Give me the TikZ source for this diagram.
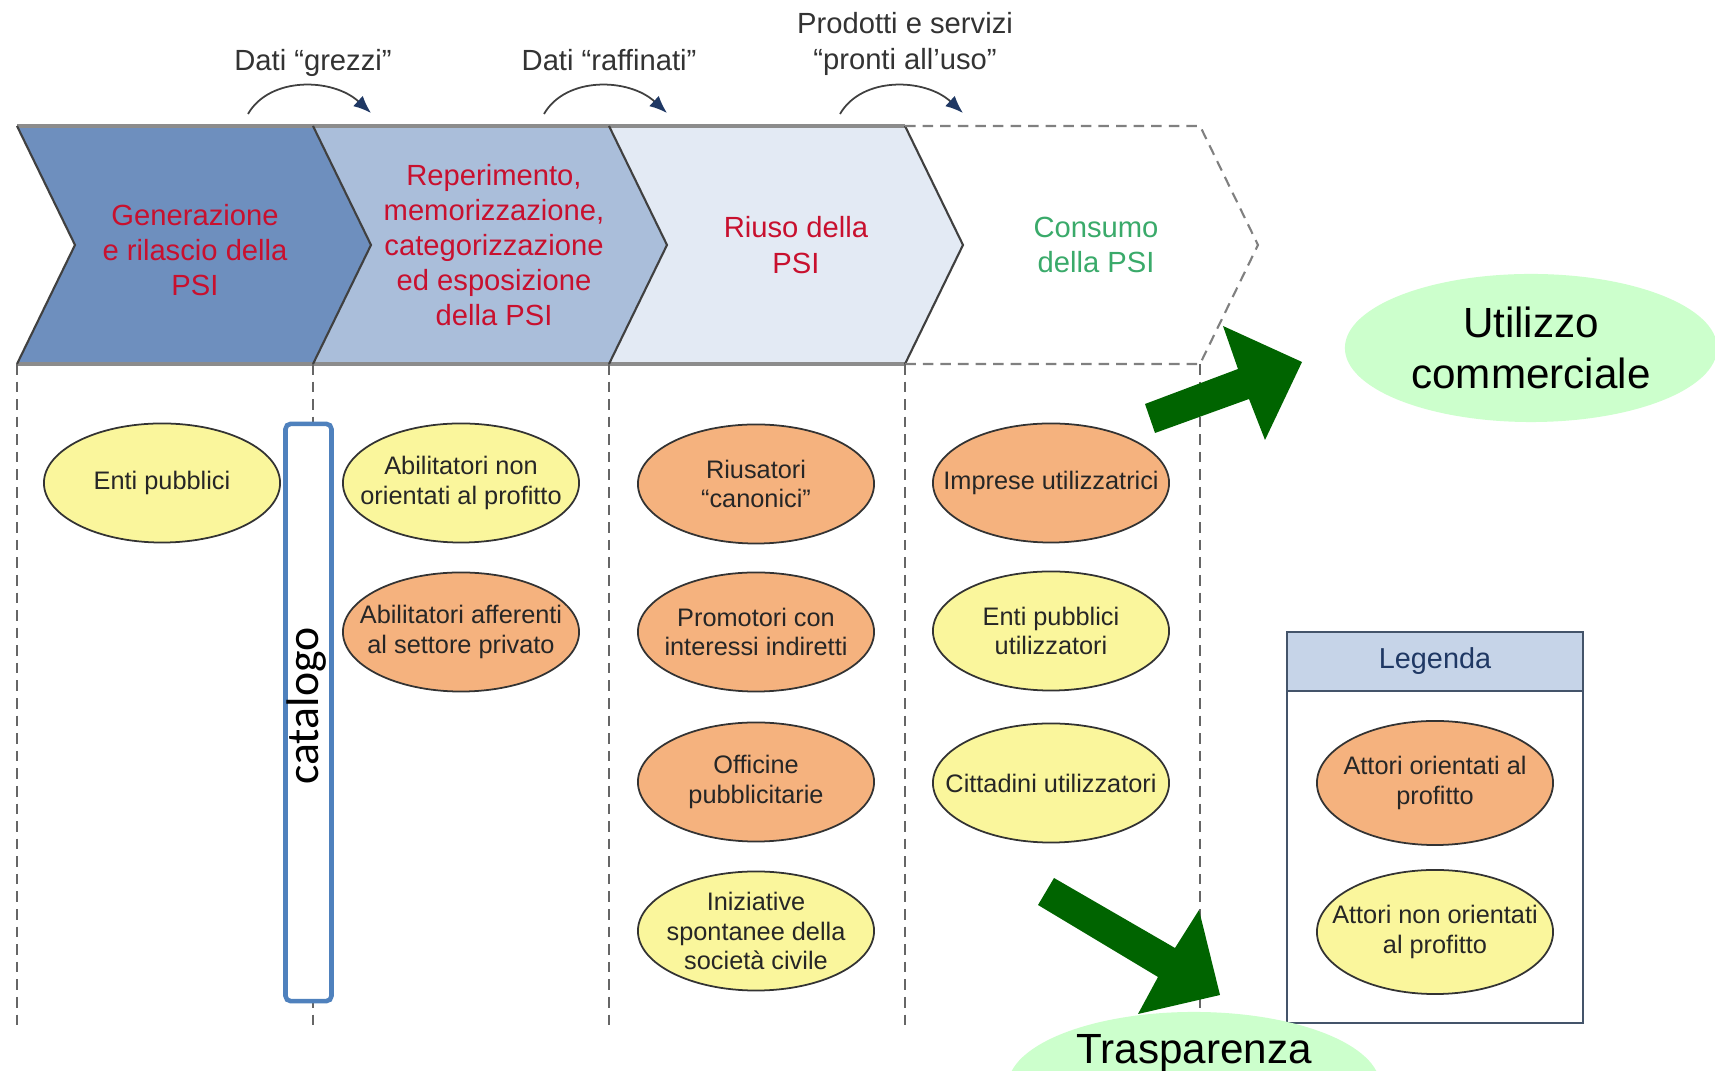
\documentclass[tikz,border=0pt]{standalone}
\usepackage{fontspec}
\setmainfont{Liberation Sans}
\newfontfamily\calib{Carlito}
\usetikzlibrary{shapes.geometric,arrows.meta}

\definecolor{chevA}{HTML}{6E8FBE}
\definecolor{chevB}{HTML}{AABEDA}
\definecolor{chevC}{HTML}{E3EAF4}
\definecolor{psired}{HTML}{C8102E}
\definecolor{psigreen}{HTML}{3AAA6A}
\definecolor{ylw}{HTML}{FAF69C}
\definecolor{orng}{HTML}{F5B27E}
\definecolor{dgreen}{HTML}{006400}
\definecolor{lgreen}{HTML}{CCFFCC}
\definecolor{navy}{HTML}{1F3864}
\definecolor{catblue}{HTML}{4F81BD}
\definecolor{leghead}{HTML}{C6D4E8}
\definecolor{legline}{HTML}{44546A}

\begin{document}
\begin{tikzpicture}[x=0.01cm,y=-0.01cm,
  actorlabel/.style={align=center, inner sep=0pt,
    font=\fontsize{7.2}{8.5}\selectfont, text=black!85},
  actor/.style={ellipse, draw=black!80, line width=0.5pt, minimum width=2.36cm,
    minimum height=1.19cm, inner sep=0pt,
    label={[actorlabel]center:#1}},
  yactor/.style={actor={#1}, fill=ylw},
  oactor/.style={actor={#1}, fill=orng},
  chevtext/.style={align=center, font=\fontsize{8.3}{10}\selectfont, text=psired},
  toplabel/.style={align=center, font=\fontsize{8.3}{10.2}\selectfont, text=black!80},
  guide/.style={draw=black!60, line width=0.4pt, dash pattern=on 3pt off 2pt},
  flow/.style={-{Latex[length=5pt,width=4pt,color=navy]}, draw=black!75, line width=0.5pt},
  usage/.style={ellipse, fill=lgreen, draw=none, minimum width=3.72cm,
    minimum height=1.48cm, inner sep=0pt},
  bigtext/.style={font=\fontsize{12}{14.3}\selectfont, align=center, text=black},
  edge/.style={draw=black!75, line width=0.6pt},
  rim/.style={draw=black!45, line width=0.9pt},
  dashrim/.style={draw=black!50, line width=0.6pt, dash pattern=on 3pt off 2pt},
  ]

\useasboundingbox (0,0) rectangle (1715,1071);
\clip (0,0) rectangle (1715,1071);
\fill[white] (0,0) rectangle (1715,1071);

% chevrons
\fill[chevA] (17,126) -- (313,126) -- (371,245) -- (313,364) -- (17,364) -- (75,245) -- cycle;
\fill[chevB] (313,126) -- (609,126) -- (667,245) -- (609,364) -- (313,364) -- (371,245) -- cycle;
\fill[chevC] (609,126) -- (905,126) -- (963,245) -- (905,364) -- (609,364) -- (667,245) -- cycle;
\draw[rim] (17,126) -- (905,126);
\draw[rim] (17,364) -- (905,364);
\draw[edge] (17,126) -- (75,245) -- (17,364);
\draw[edge] (313,126) -- (371,245) -- (313,364);
\draw[edge] (609,126) -- (667,245) -- (609,364);
\draw[edge] (905,126) -- (963,245) -- (905,364);
\draw[dashrim] (905,126) -- (1200,126) -- (1258,245) -- (1200,364) -- (905,364);

\node[chevtext] (ch1) at (195,250) {Generazione\\e rilascio della\\PSI};
\node[chevtext] (ch2) at (494,245) {Reperimento,\\memorizzazione,\\categorizzazione\\ed esposizione\\della PSI};
\node[chevtext] (ch3) at (796,245) {Riuso della\\PSI};
\node[chevtext, text=psigreen] (ch4) at (1096,245) {Consumo\\della PSI};

% top labels and curved arrows
\node[toplabel] (lab1) at (313,63) {Dati “grezzi”};
\node[toplabel] (lab2) at (609,60) {Dati “raffinati”};
\node[toplabel] (lab3) at (905,44) {Prodotti e servizi\\“pronti all’uso”};

\coordinate (f1s) at (248,114); \coordinate (f1e) at (371,113);
\coordinate (f2s) at (544,114); \coordinate (f2e) at (667,113);
\coordinate (f3s) at (840,114); \coordinate (f3e) at (963,113);
\draw[flow] (f1s) .. controls (270,76) and (333,78) .. (f1e);
\draw[flow] (f2s) .. controls (566,76) and (629,78) .. (f2e);
\draw[flow] (f3s) .. controls (862,76) and (925,78) .. (f3e);

% column guides
\draw[guide] (17,364) -- (17,1027);
\draw[guide] (313,364) -- (313,1027);
\draw[guide] (609,364) -- (609,1027);
\draw[guide] (905,364) -- (905,1027);
\draw[guide] (1200,364) -- (1200,1027);

% catalogo
\node[draw=catblue, fill=white, line width=1.3pt, rounded corners=1.5pt,
  minimum width=0.46cm, minimum height=5.77cm, inner sep=0pt] (cat) at (308.5,712.5) {};
\node[rotate=90, font=\calib\fontsize{13}{15}\selectfont, inner sep=0pt] (catt) at (307,706) {catalogo};

% actors
\node[yactor={Enti pubblici}] (e11) at (162,483) {};
\node[yactor={Abilitatori non\\orientati al profitto}] (e21) at (461,483) {};
\node[oactor={Abilitatori afferenti\\al settore privato}] (e22) at (461,632) {};
\node[oactor={Riusatori\\“canonici”}] (e31) at (756,484) {};
\node[oactor={Promotori con\\interessi indiretti}] (e32) at (756,632) {};
\node[oactor={Officine\\pubblicitarie}] (e33) at (756,782) {};
\node[yactor={Iniziative\\spontanee della\\società civile}] (e34) at (756,931) {};
\node[oactor={Imprese utilizzatrici}] (e41) at (1051,483) {};
\node[yactor={Enti pubblici\\utilizzatori}] (e42) at (1051,631) {};
\node[yactor={Cittadini utilizzatori}] (e43) at (1051,783) {};

% legend
\node[draw=legline, line width=0.6pt, minimum width=2.96cm, minimum height=3.91cm,
  inner sep=0pt] (leg) at (1435,827.5) {};
\node[draw=legline, fill=leghead, line width=0.6pt, minimum width=2.96cm,
  minimum height=0.59cm, inner sep=0pt, text=navy,
  font=\fontsize{8.2}{10}\selectfont] (legh) at (1435,661.5) {Legenda};
\node[oactor={Attori orientati al\\profitto}, minimum height=1.24cm] (l1) at (1435,783) {};
\node[yactor={Attori non orientati\\al profitto}, minimum height=1.24cm] (l2) at (1435,932) {};

% green block arrows
\fill[dgreen] (1145,404) -- (1238,369) -- (1223,326) -- (1302,362) -- (1265,440)
  -- (1249,399) -- (1155,433) -- cycle;
\fill[dgreen] (1054,878) -- (1175,948) -- (1199,910) -- (1220,995) -- (1138,1014)
  -- (1158,977) -- (1038,905) -- cycle;

% usage ellipses
\node[usage, bigtext] (util) at (1531,348) {Utilizzo\\commerciale};
\node[usage] (trasp) at (1194,1086) {};
\node[bigtext, anchor=base, inner sep=0pt] (traspt) at (1194,1064) {Trasparenza};

\end{tikzpicture}
\end{document}
